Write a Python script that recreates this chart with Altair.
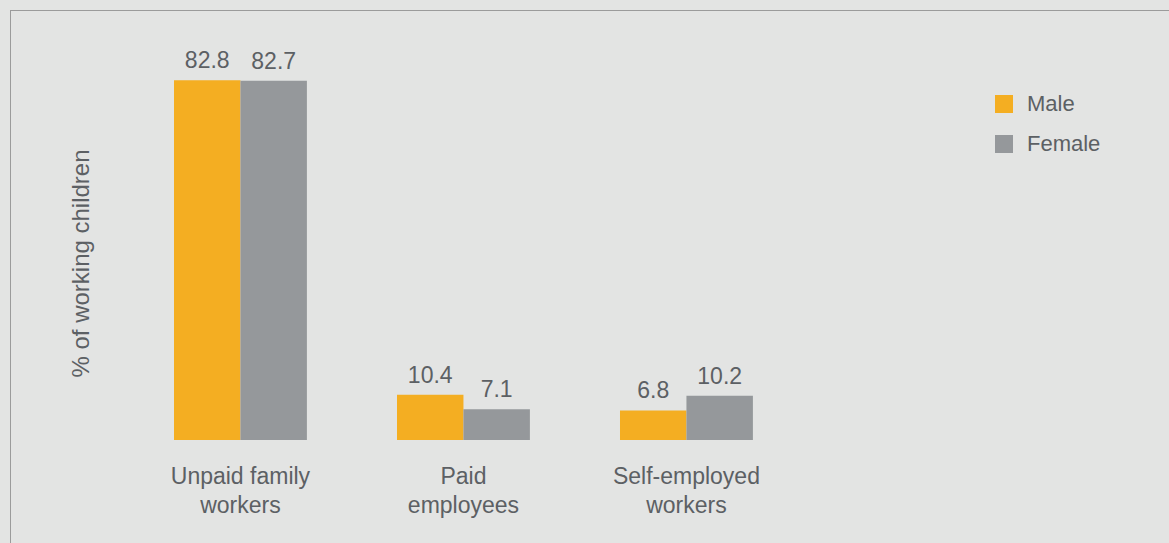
import altair as alt
import pandas as pd

categories = ["Unpaid family workers", "Paid employees", "Self-employed workers"]
sexes = ["Male", "Female"]
male = [82.8, 10.4, 6.8]
female = [82.7, 7.1, 10.2]
colors = ["#F4AE22", "#95989B"]

rows = []
for c, m, f in zip(categories, male, female):
    rows.append({"category": c, "sex": "Male", "value": m})
    rows.append({"category": c, "sex": "Female", "value": f})
df = pd.DataFrame(rows)

W, H = 1159, 430
FONT = "Liberation Sans"
TXT = "#5c6064"

label_expr = ("[substring(datum.label, 0, lastindexof(datum.label, ' ')), "
              "substring(datum.label, lastindexof(datum.label, ' ') + 1)]")

x = alt.X(
    "category:N",
    sort=categories,
    scale=alt.Scale(paddingInner=0.404, paddingOuter=0.5, range=[52.5, 854.4]),
    axis=alt.Axis(
        title=None, labelExpr=label_expr, labelAngle=0, ticks=False, domain=False,
        labelFont=FONT, labelFontSize=23, labelColor=TXT, labelPadding=25,
        labelLineHeight=29, labelBaseline="top",
    ),
)
xo = alt.XOffset("sex:N", sort=sexes, scale=alt.Scale(paddingInner=0, paddingOuter=0))
y = alt.Y(
    "value:Q",
    scale=alt.Scale(domain=[0, 99], nice=False),
    axis=alt.Axis(
        title="% of working children", labels=False, ticks=False, domain=False, grid=False,
        titleAngle=270, titleX=78, titleY=253, titleAlign="center",
        titleBaseline="alphabetic", titleFont=FONT, titleFontSize=24,
        titleFontWeight="normal", titleColor=TXT,
    ),
)
color = alt.Color(
    "sex:N",
    sort=sexes,
    scale=alt.Scale(domain=sexes, range=colors),
    legend=alt.Legend(
        title=None, orient="none", legendX=983, legendY=83, symbolType="square",
        symbolSize=324, symbolStrokeWidth=0, labelFont=FONT, labelFontSize=22,
        labelColor=TXT, labelOffset=12, rowPadding=18, padding=0,
    ),
)

base = alt.Chart(df)
bars = base.mark_bar().encode(x=x, xOffset=xo, y=y, color=color)
labels = base.mark_text(
    font=FONT, fontSize=23, color=TXT, baseline="alphabetic", dy=-12
).encode(x=x, xOffset=xo, y=y, text=alt.Text("value:Q", format=".1f"))

top_rule = alt.Chart(pd.DataFrame({"k": [0]})).mark_rule(color="#9b9b9b", strokeWidth=1).encode(
    x=alt.value(0), x2=alt.value(W), y=alt.value(0.5)
)
left_rule = alt.Chart(pd.DataFrame({"k": [0]})).mark_rule(color="#9b9b9b", strokeWidth=1).encode(
    x=alt.value(0.5), y=alt.value(0), y2=alt.value(540)
)

chart = alt.layer(bars, labels, top_rule, left_rule).properties(
    width=W, height=H,
    autosize=alt.AutoSizeParams(type="none"),
    padding={"left": 10, "top": 10, "right": 0, "bottom": 103},
    background="#E3E4E3",
).configure_view(stroke=None)

chart.save("out.html", embed_options={"renderer": "svg", "actions": False})
